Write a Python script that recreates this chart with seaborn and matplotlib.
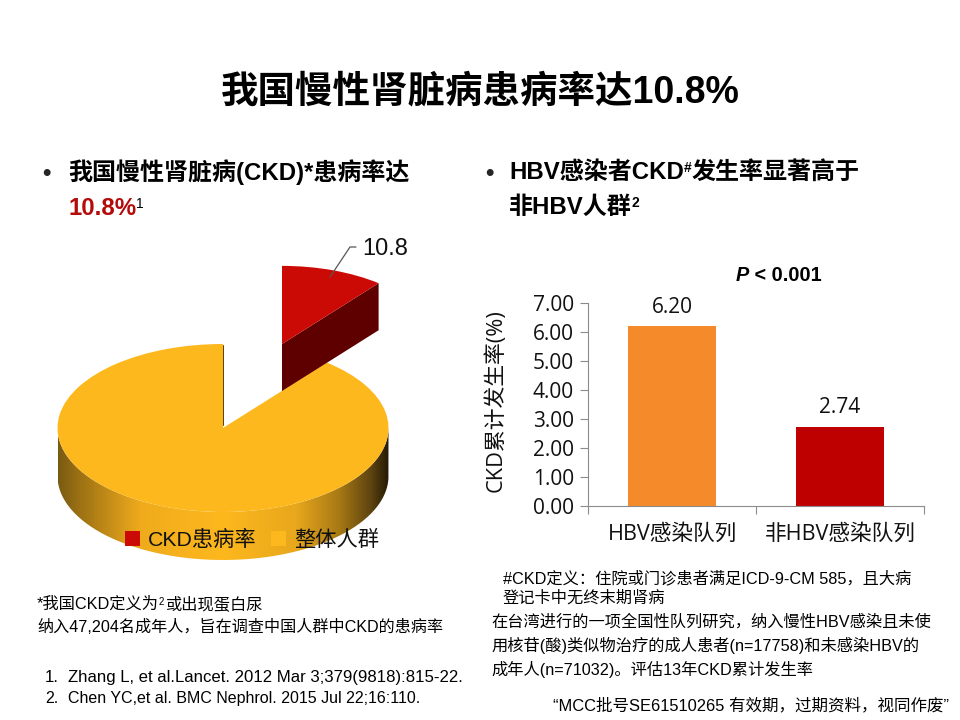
import numpy as np
import pandas as pd
import matplotlib
matplotlib.use("Agg")
import matplotlib.pyplot as plt
import seaborn as sns
from matplotlib.colors import LinearSegmentedColormap
from matplotlib.patches import PathPatch, Polygon
from matplotlib.path import Path

# ---- data ----
pie_labels = ["CKD患病率", "整体人群"]
pie_values = [10.8, 89.2]
bar_categories = ["HBV感染队列", "非HBV感染队列"]
bar_values = [6.20, 2.74]
y_ticks = [0, 1, 2, 3, 4, 5, 6, 7]

title_text = "我国慢性肾脏病患病率达10.8%"
note_left = ["纳入47,204名成年人，旨在调查中国人群中CKD的患病率"]
refs = ["Zhang L, et al.Lancet. 2012 Mar 3;379(9818):815-22.",
        "Chen YC,et al. BMC Nephrol. 2015 Jul 22;16:110."]
note_right = ["#CKD定义：住院或门诊患者满足ICD-9-CM 585，且大病",
              "登记卡中无终末期肾病"]
study_lines = ["在台湾进行的一项全国性队列研究，纳入慢性HBV感染且未使",
               "用核苷(酸)类似物治疗的成人患者(n=17758)和未感染HBV的",
               "成年人(n=71032)。评估13年CKD累计发生率"]
footer = "“MCC批号SE61510265 有效期，过期资料，视同作废”"

sns.set_theme(style="white")
ARIAL = ["Liberation Sans", "Noto Sans CJK SC"]
OPEN = ["Open Sans", "Noto Sans CJK SC"]
plt.rcParams["font.family"] = ARIAL

W, H = 960, 720
fig = plt.figure(figsize=(9.6, 7.2), dpi=100, facecolor="white")


def runs(x, y, parts, size=15, weight="normal", color="black"):
    """Lay out text runs left to right from pixel x on baseline pixel y."""
    r = fig.canvas.get_renderer()
    for p in parts:
        if isinstance(p, str):
            p = {"s": p}
        s = p["s"]
        t = fig.text(x / W, 1 - (y - p.get("rise", 0)) / H, s, va="baseline", ha="left",
                     fontsize=p.get("size", size), fontweight=p.get("weight", weight),
                     color=p.get("color", color), style=p.get("style", "normal"),
                     family=ARIAL)
        x = t.get_window_extent(r).x1 + p.get("gap", 0)


# ---- pie axes: 3D look through squashed unit pie ----
CX, CY, RX, RY = 223, 428, 165.5, 84
px0, px1, py0, py1 = 40, 420, 235, 575
ax_p = fig.add_axes([px0 / W, 1 - py1 / H, (px1 - px0) / W, (py1 - py0) / H])
wedges, _ = ax_p.pie(pie_values, colors=["#CC0A05", "#FDB81E"], startangle=90,
                     counterclock=False, radius=1.0, center=(0, 0),
                     wedgeprops={"linewidth": 0, "edgecolor": "none"})
DEPTH = 48 / RY
cut = np.deg2rad(90 - 360 * pie_values[0] / 100)

# exploded small slice
w_red, w_gold = wedges
off = np.array([59 / RX, 84 / RY])
w_red.set_center(tuple(off))
w_red.set_radius(0.93)
w_red.set_zorder(5)
w_gold.set_zorder(4)
end = off + 0.93 * np.array([np.cos(cut), np.sin(cut)])
ax_p.add_patch(Polygon([off, end, end - [0, 0.56], off - [0, 0.56]], closed=True,
                       facecolor="#5F0000", edgecolor="none", zorder=4.5))

# rim of big slice with a horizontal gradient
th = np.linspace(np.pi, 2 * np.pi, 200)
top = np.c_[np.cos(th), np.sin(th)]
bot = top[::-1] - [0, DEPTH]
rim = Path(np.r_[top, bot, top[:1]], closed=False)
cmap = LinearSegmentedColormap.from_list("rim", [
    (0.0, "#7A5A12"), (0.06, "#9A7014"), (0.25, "#F0AB1C"), (0.5, "#FDB81E"),
    (0.72, "#E8A71C"), (0.85, "#A87A15"), (0.95, "#5C4210"), (1.0, "#241A05")])
im = ax_p.imshow(np.linspace(0, 1, 256)[None, :], extent=[-1, 1, -1 - DEPTH, 0.2],
                 aspect="auto", cmap=cmap, zorder=3)
im.set_clip_path(PathPatch(rim, transform=ax_p.transData))
ax_p.plot([0, 0], [0.04, 0.99], color="#5a4000", lw=0.7, zorder=4.2)

ax_p.set_aspect("auto")
ax_p.set_xlim((px0 - CX) / RX, (px1 - CX) / RX)
ax_p.set_ylim((CY - py1) / RY, (CY - py0) / RY)
ax_p.patch.set_alpha(0)
ax_p.axis("off")

# value label with leader line
lab_xy = ((350 - CX) / RX, (CY - 247) / RY)
ax_p.plot([(330 - CX) / RX, lab_xy[0], (356 - CX) / RX],
          [(CY - 277) / RY, lab_xy[1], lab_xy[1]], color="#555555", lw=0.9, zorder=6)
ax_p.text((362 - CX) / RX, (CY - 249) / RY, f"{pie_values[0]:.1f}", fontsize=17, va="center",
          ha="left", color="#111111", family=ARIAL, zorder=6)

leg = ax_p.legend(wedges, pie_labels, ncol=2, frameon=False, fontsize=15.3,
                  handlelength=0.72, handleheight=0.72, handletextpad=0.36,
                  columnspacing=0.68, loc="center left", borderpad=0, borderaxespad=0,
                  bbox_to_anchor=((125 - px0) / (px1 - px0), 1 - (540 - py0) / (py1 - py0)))
for t in leg.get_texts():
    t.set_color("#111111")
leg.set_zorder(10)

# ---- bar axes ----
bx0, bx1, by0, by1 = 588, 924, 303, 506
ax_b = fig.add_axes([bx0 / W, 1 - by1 / H, (bx1 - bx0) / W, (by1 - by0) / H])
df = pd.DataFrame({"group": bar_categories, "rate": bar_values})
sns.barplot(data=df, x="group", y="rate", hue="group", dodge=False, legend=False,
            palette=["#F58A2A", "#BE0000"], width=0.524, saturation=1, linewidth=0,
            edgecolor="none", ax=ax_b)
ax_b.set_xlim(-0.5, 1.5)
ax_b.set_ylim(0, 7)
ax_b.set_yticks(y_ticks, [f"{v:.2f}" for v in y_ticks], fontsize=15, family=OPEN, color="#111111")
ax_b.set_xticks([0, 1], bar_categories, fontsize=15.6, family=OPEN, color="#111111")
ax_b.set_xticks([-0.5, 0.5, 1.5], minor=True)
ax_b.tick_params(axis="x", which="major", length=0, pad=13)
ax_b.tick_params(axis="x", which="minor", length=6, width=0.8, color="#8C8C8C", bottom=True)
ax_b.tick_params(axis="y", length=6, width=0.8, color="#8C8C8C", left=True, pad=4)
ax_b.set_xlabel("")
ax_b.set_ylabel("CKD累计发生率(%)", fontsize=15.7, family=OPEN, color="#111111", labelpad=19,
                y=0.52)
for s in ["top", "right"]:
    ax_b.spines[s].set_visible(False)
for s in ["left", "bottom"]:
    ax_b.spines[s].set_color("#8C8C8C")
    ax_b.spines[s].set_linewidth(0.8)
for c in ax_b.containers:
    ax_b.bar_label(c, fmt="%.2f", fontsize=15, family=OPEN, padding=6, color="#111111")

# ---- texts ----
fig.text(0.5, 1 - 102 / H, title_text, ha="center", va="baseline", fontsize=27,
         fontweight="bold", family=ARIAL, color="black")

BS = 17.3
fig.text(46 / W, 1 - 180 / H, "•", fontsize=BS, family=ARIAL, fontweight="bold", ha="center", va="baseline")
runs(68, 180, ["我国慢性肾脏病(CKD)*患病率达"], size=BS, weight="bold")
runs(68, 215, [{"s": "10.8%", "color": "#B50A0A"}, {"s": "1", "size": 10, "rise": 7, "weight": "normal"}],
     size=BS, weight="bold")
fig.text(489 / W, 1 - 180 / H, "•", fontsize=BS, family=ARIAL, fontweight="bold", ha="center", va="baseline")
runs(509, 179, ["HBV感染者CKD", {"s": "#", "size": 10, "rise": 7}, "发生率显著高于"], size=BS, weight="bold")
runs(509, 214, ["非HBV人群", {"s": "2", "size": 10, "rise": 7}], size=BS, weight="bold")
runs(736, 281, [{"s": "P", "style": "italic"}, " < 0.001"], size=14.3, weight="bold")

NS = 11.7
runs(37, 609, ["*我国CKD定义为", {"s": "2", "size": 7, "rise": 4, "gap": 2}, "或出现蛋白尿"], size=NS)
for y, s in zip([632], note_left):
    runs(37, y, [s], size=11.6)
for i, (s, fs) in enumerate(zip(refs, [12.1, 11.5])):
    y = 682 + 21 * i
    runs(45, y, [f"{i + 1}."], size=fs)
    runs(68, y, [s], size=fs)
for y, s in zip([583, 603], note_right):
    runs(503, y, [s], size=NS)
for y, s in zip([627, 651, 675], study_lines):
    runs(491, y, [s], size=NS)
runs(553, 710, [footer], size=11.9)

fig.savefig("out.png", dpi=100, facecolor="white")
